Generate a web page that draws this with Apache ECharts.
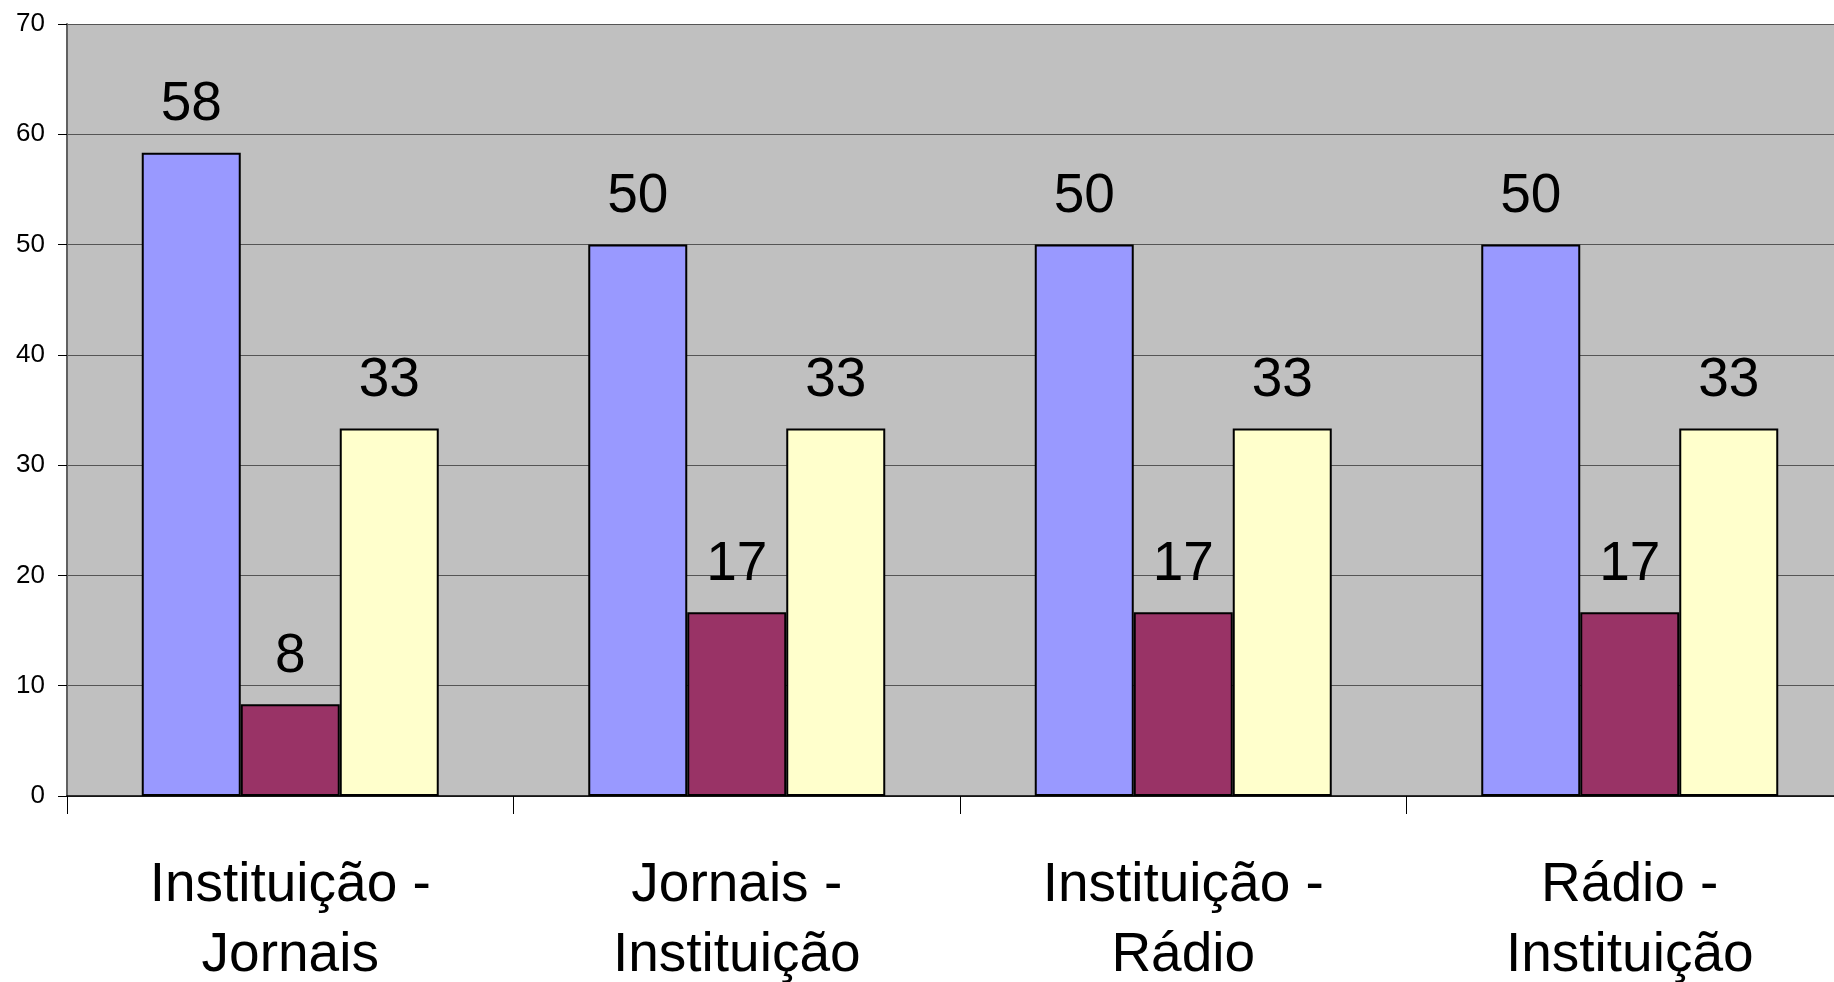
<!DOCTYPE html>
<html>
<head>
<meta charset="utf-8">
<script src="https://cdn.jsdelivr.net/npm/echarts@6/dist/echarts.min.js"></script>
<style>
html,body{margin:0;padding:0;background:#fff;overflow:hidden;}
#chart{width:1834px;height:982px;}
</style>
</head>
<body>
<div id="chart"></div>
<script>
const categories = ['Instituição -\nJornais', 'Jornais -\nInstituição', 'Instituição -\nRádio', 'Rádio -\nInstituição'];
const seriesA = [58.33, 50, 50, 50];
const seriesB = [8.33, 16.67, 16.67, 16.67];
const seriesC = [33.33, 33.33, 33.33, 33.33];
const yTicks = [0, 10, 20, 30, 40, 50, 60, 70];

const FONT = '"Liberation Sans", Arial, sans-serif';
const chart = echarts.init(document.getElementById('chart'), null, {renderer: 'canvas', width: 1834, height: 982});

function mkSeries(name, data, color) {
  return {
    name: name,
    type: 'bar',
    data: data,
    barWidth: 99,
    barGap: '0%',
    itemStyle: {color: color, borderColor: '#000', borderWidth: 2},
    label: {
      show: true,
      position: 'top',
      distance: 20,
      fontFamily: FONT,
      fontSize: 55,
      color: '#000',
      formatter: p => String(Math.round(p.value))
    }
  };
}

chart.setOption({
  backgroundColor: '#ffffff',
  animation: false,
  grid: {
    left: 67,
    top: 24,
    width: 1786,
    height: 772,
    show: true,
    backgroundColor: '#c0c0c0',
    borderWidth: 0,
    containLabel: false,
    outerBoundsMode: 'none'
  },
  xAxis: {
    type: 'category',
    data: categories,
    boundaryGap: true,
    axisLine: {show: true, lineStyle: {color: '#000', width: 1.5}},
    axisTick: {show: true, length: 18, alignWithLabel: false, lineStyle: {color: '#000', width: 1}},
    axisLabel: {
      fontFamily: FONT,
      fontSize: 55,
      lineHeight: 70,
      color: '#000',
      margin: 55,
      interval: 0
    },
    splitLine: {show: false}
  },
  yAxis: {
    type: 'value',
    min: yTicks[0],
    max: yTicks[yTicks.length - 1],
    interval: 10,
    axisLine: {show: true, lineStyle: {color: '#606060', width: 2}},
    axisTick: {show: true, length: 9, lineStyle: {color: '#000', width: 1}},
    axisLabel: {
      fontFamily: FONT,
      fontSize: 26,
      color: '#000',
      margin: 22
    },
    splitLine: {show: true, lineStyle: {color: '#555555', width: 1}}
  },
  series: [
    mkSeries('A', seriesA, '#9999ff'),
    mkSeries('B', seriesB, '#993366'),
    mkSeries('C', seriesC, '#ffffcc')
  ]
});
</script>
</body>
</html>
